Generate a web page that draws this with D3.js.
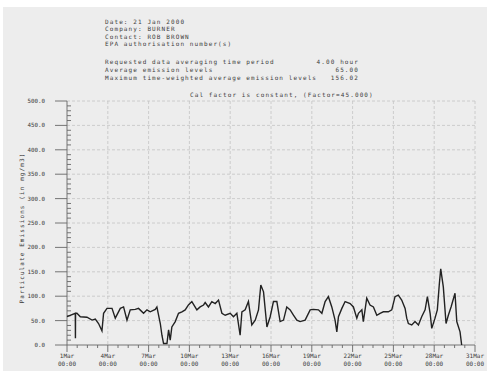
<!DOCTYPE html>
<html>
<head>
<meta charset="utf-8">
<script src="https://cdn.jsdelivr.net/npm/d3@7"></script>
<style>
  html, body { margin: 0; padding: 0; background: #fff; }
  svg text { font-family: "DejaVu Sans Mono", monospace; fill: #3c3c3c; }
</style>
</head>
<body>
<svg id="chart" width="487" height="371"></svg>
<script>
// header text
const headerLines = ["Date: 21 Jan 2000", "Company: BURNER", "Contact: ROB BROWN", "EPA authorisation number(s)"];
const statLabels = ["Requested data averaging time period", "Average emission levels", "Maximum time-weighted average emission levels"];
const statValues = ["4.00 hour", "65.00", "156.02"];
const chartTitle = "Cal factor is constant, (Factor=45.000)";
const yLabel = "Particulate Emissions (in mg/m3)";

// x ticks (day of March)
const xTickDays = [1, 4, 7, 10, 13, 16, 19, 22, 25, 28, 31];
const xTickLabels = ["1Mar", "4Mar", "7Mar", "10Mar", "13Mar", "16Mar", "19Mar", "22Mar", "25Mar", "28Mar", "31Mar"];
const xTickTime = "00:00";

// series: day of March (fractional) and emission value
const days = [1.00, 1.61, 1.62, 1.63, 1.73, 1.98, 2.47, 2.84, 3.08, 3.32, 3.57, 3.69, 3.94, 4.31, 4.55, 4.92,
  5.16, 5.41, 5.65, 6.02, 6.26, 6.63, 6.88, 7.12, 7.49, 7.61, 7.86, 7.98, 8.10, 8.35, 8.47, 8.59, 8.71,
  8.96, 9.20, 9.45, 9.69, 9.93, 10.18, 10.55, 10.79, 11.04, 11.16, 11.40, 11.65, 11.90, 12.14, 12.39,
  12.63, 13.00, 13.24, 13.49, 13.73, 13.86, 14.10, 14.34, 14.59, 14.84, 15.08, 15.25, 15.45, 15.70,
  15.94, 16.18, 16.43, 16.67, 16.92, 17.16, 17.41, 17.65, 17.90, 18.14, 18.51, 18.88, 19.12, 19.49,
  19.74, 19.98, 20.22, 20.47, 20.71, 20.84, 20.96, 21.21, 21.45, 21.82, 22.06, 22.31, 22.43, 22.68,
  22.79, 23.04, 23.28, 23.53, 23.78, 24.02, 24.26, 24.63, 24.88, 25.12, 25.36, 25.61, 25.86, 25.98,
  26.10, 26.35, 26.59, 26.84, 27.08, 27.33, 27.50, 27.70, 27.82, 28.06, 28.23, 28.38, 28.48, 28.67,
  28.87, 29.04, 29.24, 29.53, 29.66, 29.90, 30.02];
const values = [58, 65, 14, 65, 65, 58, 57, 51, 53, 44, 29, 65, 75, 75, 55, 75,
  78, 51, 72, 73, 75, 65, 72, 68, 73, 78, 44, 20, 3, 3, 31, 10, 37,
  48, 65, 68, 72, 82, 89, 72, 78, 82, 87, 78, 89, 85, 92, 65,
  61, 65, 58, 65, 20, 68, 72, 89, 41, 51, 72, 123, 109, 37,
  58, 89, 89, 48, 51, 78, 72, 61, 51, 48, 51, 72, 73, 72,
  65, 89, 99, 78, 51, 27, 58, 75, 89, 85, 78, 55, 65, 72,
  48, 96, 82, 78, 61, 65, 68, 68, 72, 99, 102, 92, 75, 55,
  44, 41, 48, 41, 58, 72, 99, 65, 34, 55, 72, 126, 156, 119,
  44, 61, 78, 106, 48, 27, 0];

const svg = d3.select("#chart");
const plotLeft = 67, plotRight = 475, plotTop = 101, plotBottom = 345;

svg.append("rect").attr("x", 3).attr("y", 7).attr("width", 484).attr("height", 364).attr("fill", "#ededed");

const x = d3.scaleLinear().domain([1, 31]).range([plotLeft, plotRight]);
const y = d3.scaleLinear().domain([0, 500]).range([plotBottom, plotTop]);

// header
const hdr = svg.append("g").style("font-size", "6px").style("letter-spacing", "1.1px");
headerLines.forEach((t, i) => hdr.append("text").attr("x", 105).attr("y", 24 + i * 7.3).text(t));
statLabels.forEach((t, i) => {
  hdr.append("text").attr("x", 105).attr("y", 64 + i * 7.8).text(t);
  hdr.append("text").attr("x", 359).attr("y", 64 + i * 7.8).attr("text-anchor", "end").text(statValues[i]);
});
hdr.append("text").attr("x", 190).attr("y", 97).text(chartTitle);

// grid
const yMajors = d3.range(0, 501, 50);
const yMinors = d3.range(0, 501, 10).filter(v => v % 50 !== 0);
const grid = svg.append("g").attr("stroke", "#c4c4c4").attr("stroke-width", 0.8).attr("stroke-dasharray", "3,2");
grid.selectAll("line.h").data(yMajors.slice(1)).enter().append("line")
  .attr("x1", plotLeft).attr("x2", plotRight).attr("y1", d => y(d)).attr("y2", d => y(d));
grid.selectAll("line.v").data(xTickDays.slice(1)).enter().append("line")
  .attr("y1", plotTop).attr("y2", plotBottom).attr("x1", d => x(d)).attr("x2", d => x(d));

// y axis
const ax = svg.append("g").attr("stroke", "#666").attr("stroke-width", 0.9);
ax.append("line").attr("x1", plotLeft).attr("x2", plotLeft).attr("y1", plotTop).attr("y2", plotBottom);
ax.selectAll("line.ymaj").data(yMajors).enter().append("line")
  .attr("x1", plotLeft - 12).attr("x2", plotLeft).attr("y1", d => y(d)).attr("y2", d => y(d));
ax.selectAll("line.ymin").data(yMinors).enter().append("line")
  .attr("x1", plotLeft).attr("x2", plotLeft + 4).attr("y1", d => y(d)).attr("y2", d => y(d));
svg.append("g").style("font-size", "5.8px").selectAll("text").data(yMajors).enter().append("text")
  .attr("x", 45).attr("y", d => y(d) + 2).attr("text-anchor", "end").text(d => d.toFixed(1));

// x axis
ax.append("line").attr("x1", plotLeft).attr("x2", plotRight).attr("y1", plotBottom).attr("y2", plotBottom);
ax.selectAll("line.xmaj").data(xTickDays).enter().append("line")
  .attr("x1", d => x(d)).attr("x2", d => x(d)).attr("y1", plotBottom).attr("y2", plotBottom + 7);
const xMinors = d3.range(1, 31, 0.75).filter(d => (d - 1) % 3 !== 0);
ax.selectAll("line.xmin").data(xMinors).enter().append("line")
  .attr("x1", d => x(d)).attr("x2", d => x(d)).attr("y1", plotBottom).attr("y2", plotBottom + 3);
const xl = svg.append("g").style("font-size", "6px").attr("text-anchor", "middle");
xTickDays.forEach((d, i) => {
  xl.append("text").attr("x", x(d)).attr("y", 358).text(xTickLabels[i]);
  xl.append("text").attr("x", x(d)).attr("y", 365.5).text(xTickTime);
});

// y label
svg.append("text").style("font-size", "6px").style("letter-spacing", "1.1px").attr("text-anchor", "middle")
  .attr("transform", "translate(24,228) rotate(-90)").text(yLabel);

// series
const pts = days.map((d, i) => [d, values[i]]);
svg.append("path").datum(pts)
  .attr("fill", "none").attr("stroke", "#222").attr("stroke-width", 1.4)
  .attr("d", d3.line().x(d => x(d[0])).y(d => y(d[1])));
</script>
</body>
</html>
